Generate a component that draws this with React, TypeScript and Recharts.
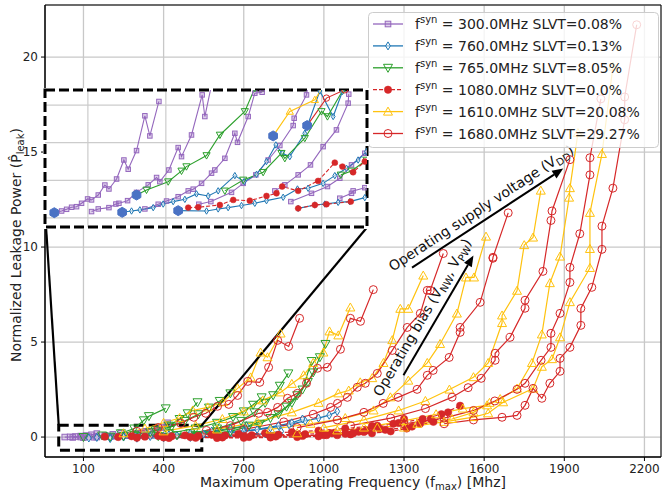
import React from "react";
import {
  LineChart,
  Line,
  XAxis,
  YAxis,
  CartesianGrid,
  ReferenceArea,
  ReferenceLine,
  Legend,
} from "recharts";

type Pt = [number, number];

const xTicks = [100, 400, 700, 1000, 1300, 1600, 1900, 2200];
const yTicks = [0, 5, 10, 15, 20];

const legendFreqs = ["300.0", "760.0", "765.0", "1080.0", "1610.0", "1680.0"];
const legendSlvt = ["0.08", "0.13", "8.05", "0.0", "20.08", "29.27"];

// main plot, one array of curves per f_syn
const f300Curves: Pt[][] = [
  [[30, 0.0], [50, 0.01], [70, 0.03], [90, 0.05], [110, 0.08], [130, 0.12], [150, 0.18]],
  [[60, -0.02], [90, 0.0], [120, 0.02], [150, 0.05], [180, 0.09], [210, 0.14], [240, 0.2]],
  [[100, -0.03], [140, -0.01], [180, 0.02], [220, 0.05], [260, 0.1], [300, 0.18], [330, 0.3]],
  [[150, 0.0], [200, 0.03], [250, 0.08], [300, 0.15], [350, 0.3], [390, 0.5], [415, 0.75]],
];

const f760Curves: Pt[][] = [
  [[120, -0.05], [200, -0.03], [300, 0.0], [400, 0.05], [500, 0.1], [600, 0.18], [700, 0.3], [800, 0.48], [870, 0.65], [930, 0.85], [980, 1.0], [1020, 1.15], [1050, 1.35]],
  [[150, -0.02], [250, 0.0], [350, 0.03], [450, 0.08], [550, 0.15], [650, 0.25], [750, 0.4], [830, 0.6], [880, 0.75], [920, 0.95]],
  [[200, -0.08], [300, -0.06], [400, -0.04], [500, -0.02], [600, 0.02], [700, 0.08], [780, 0.18], [840, 0.3]],
  [[250, 0.02], [330, 0.06], [420, 0.12], [500, 0.2], [580, 0.32], [650, 0.45], [710, 0.6]],
];

const f765Curves: Pt[][] = [
  [[100, 0.0], [170, 0.08], [240, 0.2], [290, 0.45], [326, 0.88], [345, 1.1], [408, 1.51]],
  [[200, 0.02], [290, 0.12], [370, 0.35], [420, 0.6], [460, 0.95], [490, 1.25], [527, 1.83]],
  [[300, 0.05], [420, 0.2], [520, 0.45], [600, 0.75], [660, 1.05], [700, 1.35], [735, 1.7], [767, 2.09]],
  [[380, 0.05], [500, 0.2], [600, 0.45], [690, 0.85], [740, 1.3], [780, 1.8], [810, 2.2], [835, 2.7], [867, 3.35]],
  [[450, 0.1], [600, 0.3], [720, 0.6], [800, 1.0], [860, 1.6], [900, 2.2], [940, 2.9], [960, 3.4], [985, 4.2], [1006, 4.9]],
  [[520, 0.1], [650, 0.3], [760, 0.7], [830, 1.2], [880, 1.8], [920, 2.5], [954, 4.0]],
  [[250, 0.05], [350, 0.25], [430, 0.55], [480, 0.85], [530, 1.2], [570, 1.55], [610, 1.9], [650, 2.3]],
];

const f1080Curves: Pt[][] = [
  [[180, 0.02], [280, 0.04], [380, 0.06], [480, 0.09], [580, 0.12], [680, 0.16], [780, 0.2], [880, 0.26], [980, 0.34], [1080, 0.45], [1180, 0.58], [1280, 0.74], [1370, 0.95], [1440, 1.2], [1510, 1.65]],
  [[230, 0.0], [330, 0.02], [430, 0.04], [530, 0.06], [630, 0.08], [730, 0.1], [830, 0.12], [930, 0.15], [1030, 0.2], [1130, 0.28], [1230, 0.38], [1330, 0.55], [1410, 0.8], [1465, 1.3]],
  [[300, -0.04], [400, -0.02], [500, 0.0], [600, 0.02], [700, 0.04], [800, 0.06], [900, 0.08], [1000, 0.1], [1100, 0.14], [1180, 0.2], [1250, 0.3], [1310, 0.45], [1360, 0.7], [1400, 0.95]],
  [[420, -0.05], [520, -0.04], [620, -0.02], [720, 0.0], [820, 0.03], [920, 0.06], [1010, 0.1], [1080, 0.17], [1150, 0.27], [1210, 0.42], [1260, 0.7], [1300, 0.95]],
  [[600, -0.05], [700, -0.04], [800, -0.02], [900, 0.0], [980, 0.04], [1050, 0.1], [1110, 0.2], [1160, 0.35], [1200, 0.6]],
];

const f1610Curves: Pt[][] = [
  [[250, 0.2], [330, 0.45], [400, 0.75], [460, 1.0], [509, 1.4], [565, 1.56], [622, 1.83], [677, 2.56], [726, 3.14], [763, 4.45], [789, 4.2], [838, 5.45]],
  [[400, 0.3], [520, 0.6], [620, 0.95], [700, 1.35], [771, 1.93], [838, 2.35], [880, 2.8], [924, 3.25], [960, 3.9], [998, 4.45], [1021, 5.56], [1054, 5.35], [1099, 6.82]],
  [[600, 0.4], [750, 0.8], [880, 1.3], [980, 1.8], [1054, 2.3], [1093, 2.45], [1136, 2.88], [1181, 3.1], [1223, 3.9], [1256, 5.1], [1286, 6.75], [1316, 6.75], [1372, 8.5]],
  [[800, 0.4], [950, 0.7], [1080, 1.0], [1186, 1.4], [1249, 2.09], [1316, 2.97], [1387, 3.9], [1435, 4.9], [1498, 6.5], [1532, 8.4], [1562, 8.4], [1607, 10.55]],
  [[1000, 0.5], [1150, 0.9], [1280, 1.4], [1380, 1.9], [1470, 2.5], [1560, 3.15], [1615, 3.9], [1667, 6.0], [1667, 6.4], [1723, 7.7], [1750, 10.1], [1783, 10.5], [1812, 12.97]],
  [[1150, 0.5], [1300, 0.85], [1420, 1.2], [1520, 1.5], [1611, 1.67], [1660, 2.0], [1723, 2.55], [1779, 3.9], [1816, 5.4], [1846, 8.1], [1884, 9.5], [1918, 12.6], [1921, 13.1], [1951, 16.0]],
  [[1300, 0.5], [1450, 0.8], [1560, 1.05], [1615, 1.25], [1671, 1.83], [1783, 2.55], [1816, 3.7], [1854, 4.1], [1884, 5.25], [1921, 7.1], [1996, 8.9], [1996, 9.9], [1996, 11.8], [2041, 14.9], [2082, 19.5]],
  [[900, 0.2], [1050, 0.35], [1200, 0.5], [1350, 0.7], [1480, 0.95], [1560, 1.3], [1620, 1.8]],
];

const f1680Curves: Pt[][] = [
  [[300, 0.3], [380, 0.5], [464, 0.72], [513, 1.04], [558, 1.25], [602, 1.62], [644, 1.72], [677, 2.19], [715, 2.93], [760, 2.88], [793, 3.67], [827, 5.09], [868, 4.77], [909, 6.25]],
  [[560, 0.35], [650, 0.6], [756, 1.25], [789, 1.3], [827, 1.56], [864, 2.04], [901, 2.3], [935, 2.83], [976, 3.62], [1013, 3.67], [1062, 4.62], [1099, 6.25], [1137, 6.09], [1185, 7.76]],
  [[700, 0.4], [850, 0.8], [960, 1.2], [1025, 1.56], [1051, 1.77], [1088, 2.09], [1125, 2.62], [1155, 2.83], [1200, 3.35], [1256, 4.56], [1312, 5.77], [1361, 6.51], [1387, 7.72], [1398, 7.72], [1447, 9.66]],
  [[900, 0.5], [1050, 0.9], [1150, 1.3], [1222, 1.77], [1278, 2.09], [1349, 2.51], [1387, 3.25], [1409, 3.51], [1469, 4.19], [1510, 5.51], [1510, 5.77], [1585, 7.09], [1633, 9.41], [1633, 9.46], [1690, 11.8]],
  [[1100, 0.6], [1250, 1.0], [1380, 1.5], [1480, 2.1], [1540, 2.6], [1589, 3.09], [1641, 4.04], [1641, 4.41], [1697, 5.25], [1753, 6.78], [1753, 7.2], [1820, 8.72], [1850, 11.4], [1854, 11.9], [1921, 14.6]],
  [[1300, 0.7], [1450, 1.0], [1560, 1.4], [1640, 1.9], [1723, 2.51], [1753, 2.83], [1813, 4.04], [1850, 4.72], [1850, 5.46], [1884, 6.51], [1921, 8.14], [1921, 8.93], [1958, 10.7], [1996, 13.8], [1996, 14.7], [2037, 17.8]],
  [[1450, 0.7], [1560, 0.9], [1667, 1.04], [1723, 1.14], [1753, 1.67], [1783, 2.56], [1816, 2.04], [1846, 2.83], [1884, 3.46], [1884, 4.14], [1921, 4.72], [1962, 5.88], [1962, 6.77], [2003, 7.88], [2041, 9.88], [2041, 11.1], [2082, 13.1], [2126, 16.7], [2126, 17.9], [2171, 21.7]],
];

// inset (zoomed view of the low-frequency corner)
const inset300: Pt[][] = [
  [[56.9, 0.028], [66.3, 0.037], [72.7, 0.046], [79.1, 0.057], [85.5, 0.06], [91.9, 0.078], [99.6, 0.101], [104.7, 0.096], [113.3, 0.122], [121.8, 0.175], [127.0, 0.154], [136.8, 0.207], [146.2, 0.308], [151.7, 0.259], [162.4, 0.358], [173.1, 0.543], [179.5, 0.436], [191.1, 0.619]],
  [[104.7, 0.034], [113.3, 0.048], [127.0, 0.055], [135.9, 0.074], [139.8, 0.078], [150.9, 0.092], [162.4, 0.136], [177.4, 0.176], [188.1, 0.215], [192.3, 0.193], [203.9, 0.255], [215.8, 0.374], [220.1, 0.326], [232.9, 0.441], [246.6, 0.654], [250.0, 0.539], [258.6, 0.707]],
  [[173.1, 0.048], [190.2, 0.073], [200.9, 0.09], [215.8, 0.113], [228.7, 0.144], [235.1, 0.153], [245.8, 0.184], [258.6, 0.238], [262.8, 0.255], [275.7, 0.317], [288.5, 0.45], [291.9, 0.402], [305.6, 0.539], [314.1, 0.663], [323.5, 0.668]],
  [[242.3, 0.073], [257.7, 0.087], [284.2, 0.136], [299.2, 0.184], [315.4, 0.229], [331.2, 0.308], [346.2, 0.385], [363.3, 0.491], [364.6, 0.53], [380.4, 0.654], [382.5, 0.707]],
  [[339.8, 0.144], [352.6, 0.176], [369.7, 0.229], [385.5, 0.282], [401.7, 0.379], [418.8, 0.468], [433.8, 0.61], [434.6, 0.658]],
  [[360.3, 0.087], [386.8, 0.131], [407.3, 0.167], [423.1, 0.211], [438.1, 0.282], [455.2, 0.344]],
  [[423.1, 0.105], [438.1, 0.131], [440.2, 0.144], [455.2, 0.161]],
];
const inset760: Pt[][] = [
  [[144.0, 0.03], [156.0, 0.037], [166.7, 0.043], [183.8, 0.055], [196.6, 0.074], [209.4, 0.087], [224.4, 0.099], [239.3, 0.128], [254.3, 0.117], [267.1, 0.144], [288.5, 0.225], [300.5, 0.193], [316.3, 0.232], [329.1, 0.3], [341.1, 0.388], [349.2, 0.344], [359.0, 0.326], [378.2, 0.45], [397.5, 0.675], [414.6, 0.539], [426.5, 0.672]],
  [[215.8, 0.039], [252.2, 0.037], [267.1, 0.048], [279.9, 0.055], [297.0, 0.066], [314.1, 0.078], [329.1, 0.092], [350.5, 0.11], [368.8, 0.154], [382.5, 0.158], [401.7, 0.184], [416.7, 0.225], [431.7, 0.264], [446.6, 0.308], [457.3, 0.353]],
  [[369.7, 0.051], [391.1, 0.069], [403.9, 0.074], [421.0, 0.083], [435.9, 0.087], [455.2, 0.108]],
];
const inset765: Pt[][] = [
  [[162.4, 0.122], [175.2, 0.149], [203.0, 0.193], [220.1, 0.25], [226.4, 0.273], [252.2, 0.332], [269.3, 0.441], [301.3, 0.566], [314.1, 0.69]],
  [[275.7, 0.144], [299.2, 0.202], [324.8, 0.243], [348.3, 0.344], [352.6, 0.317], [378.2, 0.424], [399.6, 0.566], [407.3, 0.539], [427.4, 0.681]],
  [[424.4, 0.229], [438.1, 0.25], [457.3, 0.308]],
];
const inset1080: Pt[][] = [
  [[228.7, 0.055], [241.5, 0.057], [269.3, 0.069], [286.4, 0.096], [307.7, 0.092], [329.1, 0.117], [341.9, 0.131], [349.2, 0.167], [369.7, 0.144], [395.3, 0.197], [416.7, 0.294], [426.5, 0.273], [440.2, 0.243], [455.2, 0.3]],
  [[369.7, 0.051], [391.1, 0.069], [406.0, 0.073], [437.2, 0.087]],
];
const inset1610: Pt[][] = [[[337.6, 0.436], [359.0, 0.566], [391.1, 0.628], [401.7, 0.699]]];
const inset1680: Pt[][] = [[[381.2, 0.491], [406.0, 0.637], [429.5, 0.681]]];
const insetStarts: Pt[] = [[56.9, 0.028], [144.0, 0.03], [162.4, 0.122], [215.8, 0.039], [337.6, 0.436], [381.2, 0.491]];
const insetXTicks = [100, 200, 300, 400];
const insetYTicks = [0, 0.1, 0.2, 0.3, 0.4, 0.5, 0.6];

type Shape = "square" | "diamond" | "triDown" | "dot" | "triUp" | "circle" | "hex";

const families: { main: Pt[][]; inset: Pt[][]; color: string; shape: Shape; dash?: string }[] = [
  { main: f300Curves, inset: inset300, color: "#9467bd", shape: "square" },
  { main: f760Curves, inset: inset760, color: "#1f77b4", shape: "diamond" },
  { main: f765Curves, inset: inset765, color: "#2ca02c", shape: "triDown" },
  { main: f1080Curves, inset: inset1080, color: "#d62728", shape: "dot", dash: "4 2" },
  { main: f1610Curves, inset: inset1610, color: "#ffc20e", shape: "triUp" },
  { main: f1680Curves, inset: inset1680, color: "#d62728", shape: "circle" },
];

const toXY = (c: Pt[]) => c.map(([x, y]) => ({ x, y }));

function Marker({ shape, cx, cy, color, s = 1 }: { shape: Shape; cx: number; cy: number; color: string; s?: number }) {
  const sw = 1;
  switch (shape) {
    case "square":
      return <rect x={cx - 2.8 * s} y={cy - 2.8 * s} width={5.6 * s} height={5.6 * s} fill={color} fillOpacity={0.3} stroke={color} strokeWidth={sw} />;
    case "diamond":
      return <polygon points={`${cx},${cy - 4 * s} ${cx + 2.4 * s},${cy} ${cx},${cy + 4 * s} ${cx - 2.4 * s},${cy}`} fill="#fff" fillOpacity={0.5} stroke={color} strokeWidth={sw} />;
    case "triDown":
      return <polygon points={`${cx - 4.5 * s},${cy - 3.5 * s} ${cx + 4.5 * s},${cy - 3.5 * s} ${cx},${cy + 4.5 * s}`} fill="none" stroke={color} strokeWidth={sw} />;
    case "triUp":
      return <polygon points={`${cx},${cy - 4.5 * s} ${cx + 4.5 * s},${cy + 3.5 * s} ${cx - 4.5 * s},${cy + 3.5 * s}`} fill="none" stroke={color} strokeWidth={sw} />;
    case "dot":
      return <circle cx={cx} cy={cy} r={3.7 * s} fill={color} stroke={color} strokeWidth={0.5} />;
    case "circle":
      return <circle cx={cx} cy={cy} r={4 * s} fill="none" stroke={color} strokeWidth={sw} />;
    case "hex": {
      const r = 5;
      const pts = [0, 1, 2, 3, 4, 5]
        .map((k) => {
          const a = (Math.PI / 3) * k + Math.PI / 6;
          return `${cx + r * Math.cos(a)},${cy + r * Math.sin(a)}`;
        })
        .join(" ");
      return <polygon points={pts} fill="#4a72c4" stroke="#4a72c4" strokeWidth={1} />;
    }
  }
  return null;
}

const makeDot = (shape: Shape, color: string, s = 1) => (p: any) => {
  const { cx, cy, index } = p;
  if (cx == null || cy == null) return <g key={index} />;
  return <Marker key={index} shape={shape} cx={cx} cy={cy} color={color} s={s} />;
};

const FONT = "'DejaVu Sans', sans-serif";

function LegendBox() {
  return (
    <svg width={291} height={136} style={{ display: "block" }}>
      <rect x={0.5} y={0.5} width={290} height={135} rx={4} fill="#fff" fillOpacity={0.8} stroke="#cccccc" />
      {families.map((f, i) => {
        const y = 12 + i * 21.9;
        return (
          <g key={i}>
            <line x1={5} x2={35} y1={y} y2={y} stroke={f.color} strokeWidth={1.3} strokeDasharray={f.dash} />
            <Marker shape={f.shape} cx={20} cy={y} color={f.color} />
            <text x={47} y={y + 5} fontSize={14} fill="#222" fontFamily={FONT}>
              f
              <tspan fontSize={10} dy={-6}>syn</tspan>
              <tspan dy={6}>{` = ${legendFreqs[i]}MHz SLVT=${legendSlvt[i]}%`}</tspan>
            </text>
          </g>
        );
      })}
    </svg>
  );
}

const arrowShape = (lines: React.ReactNode, perp: number, along: number) => (p: any) => {
  const { x1, y1, x2, y2 } = p;
  const dx = x2 - x1;
  const dy = y2 - y1;
  const len = Math.hypot(dx, dy);
  const ux = dx / len;
  const uy = dy / len;
  const ang = (Math.atan2(dy, dx) * 180) / Math.PI;
  const hl = 11;
  const hw = 4.5;
  const bx = x2 - ux * hl;
  const by = y2 - uy * hl;
  const head = `${x2},${y2} ${bx - uy * hw},${by + ux * hw} ${bx + uy * hw},${by - ux * hw}`;
  const tx = (x1 + x2) / 2 + uy * perp + ux * along;
  const ty = (y1 + y2) / 2 - ux * perp + uy * along;
  return (
    <g>
      <line x1={x1} y1={y1} x2={bx} y2={by} stroke="#000" strokeWidth={2} />
      <polygon points={head} fill="#000" />
      <text transform={`translate(${tx},${ty}) rotate(${ang})`} textAnchor="middle" dy="0.35em" fontSize={14} fill="#111" fontFamily={FONT}>
        {lines}
      </text>
    </g>
  );
};

const supplyText = (
  <>
    Operating supply voltage (V<tspan fontSize={10} dy={3}>DD</tspan>
    <tspan dy={-3}>)</tspan>
  </>
);
const biasText = (
  <>
    Operating bias (V<tspan fontSize={10} dy={3}>NW</tspan>
    <tspan dy={-3}>, V</tspan>
    <tspan fontSize={10} dy={3}>PW</tspan>
    <tspan dy={-3}>)</tspan>
  </>
);

function InsetChart() {
  return (
    <div style={{ position: "absolute", left: 43, top: 88, width: 326, height: 141, background: "#fff" }}>
      <LineChart width={326} height={141} margin={{ top: 2, right: 2, bottom: 2, left: 2 }}>
        <CartesianGrid stroke="#cccccc" strokeWidth={1.2} verticalValues={insetXTicks} horizontalValues={insetYTicks} />
        <XAxis type="number" dataKey="x" domain={[45, 458]} ticks={insetXTicks} allowDataOverflow hide />
        <YAxis type="number" dataKey="y" domain={[-0.048, 0.68]} ticks={insetYTicks} allowDataOverflow hide />
        {families.flatMap((f, fi) =>
          f.inset.map((c, ci) => (
            <Line
              key={`i${fi}-${ci}`}
              data={toXY(c)}
              dataKey="y"
              stroke={f.color}
              strokeWidth={1.1}
              strokeDasharray={f.dash}
              dot={makeDot(f.shape, f.color, 0.8)}
              activeDot={false}
              isAnimationActive={false}
            />
          ))
        )}
        <Line data={toXY(insetStarts)} dataKey="y" stroke="none" dot={makeDot("hex", "#4a72c4")} activeDot={false} isAnimationActive={false} />
        <ReferenceArea x1={45} x2={458} y1={-0.048} y2={0.68} fill="none" stroke="#000" strokeWidth={3} strokeDasharray="10 4" ifOverflow="visible" />
      </LineChart>
    </div>
  );
}

export default function App() {
  return (
    <div style={{ position: "relative", width: 662, height: 496, fontFamily: FONT, background: "#fff" }}>
      <style>{"body{margin:0}"}</style>
      <LineChart width={662} height={496} margin={{ top: 5, right: 1, left: 0, bottom: 0 }}>
        <CartesianGrid stroke="#c8c8c8" strokeWidth={1.3} />
        <XAxis
          type="number"
          dataKey="x"
          domain={[-44, 2262]}
          ticks={xTicks}
          allowDataOverflow
          height={39}
          tickSize={4}
          tickMargin={3}
          stroke="#000"
          tick={{ fontSize: 12, fill: "#222", fontFamily: FONT }}
          label={{
            content: () => (
              <text x={353} y={487} textAnchor="middle" fontSize={14} fill="#222" fontFamily={FONT}>
                Maximum Operating Frequency (f<tspan fontSize={10} dy={3}>max</tspan>
                <tspan dy={-3}>) [Mhz]</tspan>
              </text>
            ),
          }}
        />
        <YAxis
          type="number"
          dataKey="y"
          domain={[-1.05, 22.74]}
          ticks={yTicks}
          allowDataOverflow
          width={45}
          tickSize={4}
          tickMargin={3}
          stroke="#000"
          tick={{ fontSize: 12, fill: "#222", fontFamily: FONT }}
          label={{
            content: () => (
              <text transform="translate(21,245) rotate(-90)" textAnchor="middle" fontSize={14} fill="#222" fontFamily={FONT}>
                Normalized Leakage Power (P{"\u0302"}
                <tspan fontSize={10} dy={3}>leak</tspan>
                <tspan dy={-3}>)</tspan>
              </text>
            ),
          }}
        />
        {families.flatMap((f, fi) =>
          f.main.map((c, ci) => (
            <Line
              key={`m${fi}-${ci}`}
              data={toXY(c)}
              dataKey="y"
              stroke={f.color}
              strokeWidth={1.2}
              strokeDasharray={f.dash}
              dot={makeDot(f.shape, f.color)}
              activeDot={false}
              legendType="none"
              isAnimationActive={false}
            />
          ))
        )}
        <ReferenceArea x1={7.4} x2={543} y1={-0.7} y2={0.62} fill="none" stroke="#000" strokeWidth={3} strokeDasharray="10 5" ifOverflow="visible" />
        <ReferenceLine segment={[{ x: -40, y: 11.04 }, { x: 7.4, y: 0.62 }]} stroke="#000" strokeWidth={2.2} ifOverflow="visible" />
        <ReferenceLine segment={[{ x: 1162, y: 11.04 }, { x: 543, y: 0.62 }]} stroke="#000" strokeWidth={2.2} ifOverflow="visible" />
        <ReferenceLine segment={[{ x: 1330, y: 8.92 }, { x: 1896, y: 14.13 }]} ifOverflow="visible" shape={arrowShape(supplyText, 12, 0)} />
        <ReferenceLine segment={[{ x: 1298, y: 3.25 }, { x: 1560, y: 9.56 }]} ifOverflow="visible" shape={arrowShape(biasText, 13, -10)} />
        <ReferenceArea x1={-44} x2={2262} y1={-1.05} y2={22.74} fill="none" stroke="#000" strokeWidth={1} ifOverflow="visible" />
        <Legend
          layout="vertical"
          align="center"
          verticalAlign="middle"
          content={() => <LegendBox />}
          wrapperStyle={{ position: "absolute", left: 368, top: 12, width: 291, height: 136, margin: 0, padding: 0 }}
        />
      </LineChart>
      <InsetChart />
    </div>
  );
}
